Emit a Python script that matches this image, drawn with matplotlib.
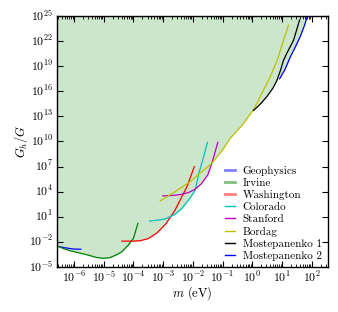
import numpy as np
import matplotlib
matplotlib.use("Agg")
import matplotlib.pyplot as plt
from matplotlib.lines import Line2D

# log10(m / eV), log10(G_h / G)
geo_lx = [-6.64, -6.3, -6.0, -5.77]
geo_ly = [-2.45, -2.7, -2.85, -2.87]

irv_lx = [-6.64, -6.35, -6.13, -5.85, -5.52, -5.25, -5.01, -4.8, -4.67, -4.5, -4.39, -4.17, -4.0, -3.85]
irv_ly = [-2.37, -2.8, -3.05, -3.29, -3.57, -3.85, -3.96, -3.88, -3.69, -3.4, -3.17, -2.37, -1.57, 0.22]

wash_lx = [-4.39, -4.0, -3.77, -3.5, -3.2, -2.9, -2.6, -2.4, -2.2, -1.95]
wash_ly = [-1.9, -1.9, -1.85, -1.6, -0.9, 0.2, 1.8, 3.2, 4.6, 7.0]

col_lx = [-3.46, -3.2, -2.93, -2.6, -2.37, -2.1, -1.92, -1.8, -1.65, -1.51]
col_ly = [0.5, 0.6, 0.75, 1.3, 2.0, 3.2, 4.2, 6.2, 8.0, 9.9]

stan_lx = [-3.01, -2.7, -2.43, -2.15, -1.92, -1.7, -1.5, -1.36, -1.16]
stan_ly = [3.5, 3.55, 3.65, 3.9, 4.3, 5.0, 6.0, 7.4, 9.9]

bord_lx = [-3.1, -2.6, -2.09, -1.7, -1.36, -1.0, -0.74, -0.35, 0.04, 0.3, 0.6, 0.85, 1.05, 1.22]
bord_ly = [2.9, 4.0, 5.2, 6.4, 7.4, 9.0, 10.4, 11.9, 13.8, 15.6, 17.7, 19.8, 22.1, 23.9]

most1_lx = [0.04, 0.25, 0.49, 0.7, 0.83, 0.95, 1.05, 1.2, 1.39, 1.59]
most1_ly = [13.7, 14.4, 15.35, 16.4, 17.3, 18.5, 19.7, 20.8, 22.1, 24.5]

most2_lx = [0.92, 1.1, 1.28, 1.45, 1.61, 1.75, 1.86]
most2_ly = [17.5, 18.6, 20.1, 21.3, 22.5, 23.8, 25.0]

curves = [
    ("Geophysics", geo_lx, geo_ly, 'b'),
    ("Irvine", irv_lx, irv_ly, 'g'),
    ("Washington", wash_lx, wash_ly, 'r'),
    ("Colorado", col_lx, col_ly, 'c'),
    ("Stanford", stan_lx, stan_ly, 'm'),
    ("Bordag", bord_lx, bord_ly, 'y'),
    ("Mostepanenko 1", most1_lx, most1_ly, 'k'),
    ("Mostepanenko 2", most2_lx, most2_ly, 'b'),
]

plt.style.use('classic')
plt.rcParams['font.family'] = 'serif'
plt.rcParams['font.serif'] = ['cmr10']
plt.rcParams['mathtext.fontset'] = 'cm'
plt.rcParams['axes.formatter.use_mathtext'] = True
plt.rcParams['axes.unicode_minus'] = False

fig = plt.figure(figsize=(3.38, 3.12), dpi=100)
ax = fig.add_axes([0.169, 0.144, 0.801, 0.805])

# excluded region: above the lower envelope of all curves
grid = np.linspace(-6.7, 2.0, 1500)
stack = []
for name, lx, ly, c in curves:
    stack.append(np.interp(grid, lx, ly, left=np.nan, right=np.nan))
stack = np.array(stack)
ok = ~np.all(np.isnan(stack), axis=0)
env = np.full_like(grid, np.nan)
env[ok] = np.nanmin(stack[:, ok], axis=0)
ax.fill_between(10 ** grid[ok], 10 ** env[ok], 1e25, color=(0.8, 0.9, 0.8), lw=0, zorder=0)

handles = []
for i, (name, lx, ly, c) in enumerate(curves):
    ax.plot(10 ** np.array(lx), 10 ** np.array(ly), color=c, lw=0.9)
    if i < 3:
        handles.append(Line2D([], [], color=c, lw=2, alpha=0.5, label=name))
    else:
        handles.append(Line2D([], [], color=c, lw=1, label=name))

ax.set_xscale('log')
ax.set_yscale('log')
ax.set_xlim(2.7e-7, 3.5e2)
ax.set_ylim(1e-5, 1e25)
ax.set_xticks([10.0 ** k for k in range(-6, 3)])
ax.set_yticks([10.0 ** k for k in range(-5, 26, 3)])
ax.yaxis.set_minor_locator(matplotlib.ticker.NullLocator())
ax.tick_params(labelsize=8.5, length=4, width=0.8, pad=3)
ax.tick_params(axis='x', pad=2)
ax.tick_params(which='minor', length=2, width=0.6)
ax.set_xlabel(r'$m$ (eV)', fontsize=9, labelpad=-1)
ax.set_ylabel(r'$G_h/G$', fontsize=9, labelpad=-1)

ax.legend(handles=handles, loc='lower right', frameon=False, fontsize=8,
          handlelength=1.5, labelspacing=0.2, handletextpad=0.4,
          borderaxespad=0.15)

fig.savefig('out.png', dpi=100)
